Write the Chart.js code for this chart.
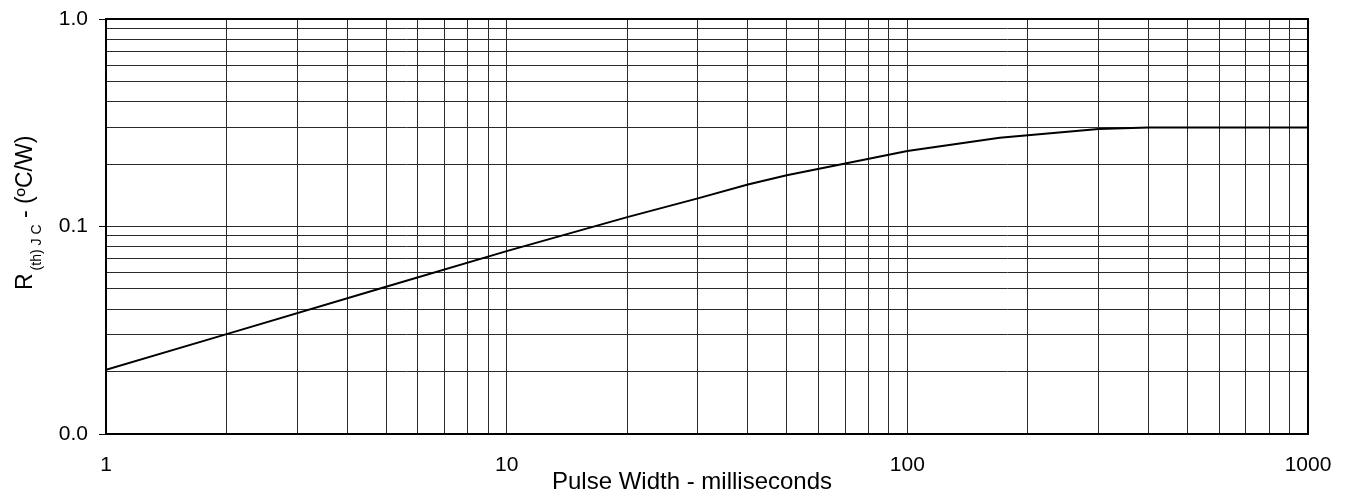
<!DOCTYPE html>
<html>
<head>
<meta charset="utf-8">
<script src="https://cdn.jsdelivr.net/npm/chart.js@4/dist/chart.umd.min.js"></script>
<style>
  html, body { margin: 0; padding: 0; background: #fff; overflow: hidden; }
  #wrap { width: 1350px; height: 498px; }
</style>
</head>
<body>
<div id="wrap"><canvas id="chart" width="1350" height="498"></canvas></div>
<script>
// Transient thermal impedance vs. pulse width
const pulseWidthMs = [1, 2, 5, 10, 20, 30, 40, 50, 70, 100, 170, 300, 400, 1000];
const thermalImpedance = [0.0204, 0.0303, 0.0512, 0.0761, 0.111, 0.1366, 0.1594, 0.1766,
  0.2011, 0.231, 0.268, 0.2953, 0.30, 0.30];

// Grid positions (1..9 per decade) and the labels shown at each decade
const xGridValues = [1, 2, 3, 4, 5, 6, 7, 8, 9, 10, 20, 30, 40, 50, 60, 70, 80, 90,
  100, 200, 300, 400, 500, 600, 700, 800, 900, 1000];
const xTickLabels = { 1: '1', 10: '10', 100: '100', 1000: '1000' };
const yGridValues = [0.01, 0.02, 0.03, 0.04, 0.05, 0.06, 0.07, 0.08, 0.09,
  0.1, 0.2, 0.3, 0.4, 0.5, 0.6, 0.7, 0.8, 0.9, 1];
const yTickLabels = { 0.01: '0.0', 0.1: '0.1', 1: '1.0' };

const xTitle = 'Pulse Width - milliseconds';
const yTitleMain = 'R';
const yTitleSub = '(th) J C';
const yTitleTail = ' - (\u00BAC/W)';

const FONT = 'Arial, "Liberation Sans", sans-serif';

// Frame around the plot and the two axis titles
const framePlugin = {
  id: 'frame',
  afterDraw(chart) {
    const { ctx, chartArea: a } = chart;
    ctx.save();
    ctx.strokeStyle = '#000';
    ctx.lineWidth = 2;
    ctx.strokeRect(a.left, a.top, a.right - a.left, a.bottom - a.top);

    // x-axis title
    ctx.fillStyle = '#000';
    ctx.font = '24px ' + FONT;
    ctx.textAlign = 'center';
    ctx.textBaseline = 'alphabetic';
    ctx.fillText(xTitle, 692, 489);

    // y-axis title with subscript, rotated
    ctx.translate(32, 290);
    ctx.rotate(-Math.PI / 2);
    ctx.textAlign = 'left';
    let pos = 0;
    ctx.font = '23px ' + FONT;
    ctx.fillText(yTitleMain, pos, 0);
    pos += ctx.measureText(yTitleMain).width + 3;
    ctx.font = '14px ' + FONT;
    ctx.fillText(yTitleSub, pos, 9);
    pos += ctx.measureText(yTitleSub).width;
    ctx.font = '23px ' + FONT;
    ctx.fillText(yTitleTail, pos, 0);
    ctx.restore();
  }
};

const points = pulseWidthMs.map((x, i) => ({ x, y: thermalImpedance[i] }));

new Chart(document.getElementById('chart'), {
  type: 'line',
  data: {
    datasets: [{
      data: points,
      borderColor: '#000',
      borderWidth: 2,
      pointRadius: 0,
      tension: 0,
      fill: false
    }]
  },
  options: {
    responsive: false,
    animation: false,
    events: [],
    layout: { padding: { top: 19, right: 42, bottom: 0, left: 0 } },
    plugins: { legend: { display: false }, tooltip: { enabled: false } },
    scales: {
      x: {
        type: 'logarithmic',
        min: 1,
        max: 1000,
        afterBuildTicks: (s) => { s.ticks = xGridValues.map(v => ({ value: v })); },
        afterFit: (s) => { s.height = 64; s.paddingLeft = 0; s.paddingRight = 0; },
        border: { display: false },
        grid: { color: '#2b2b2b', lineWidth: 1, drawTicks: false },
        ticks: {
          autoSkip: false,
          maxRotation: 0,
          padding: 19,
          color: '#000',
          font: { family: FONT, size: 21 },
          callback: (v) => xTickLabels[v] ?? ''
        }
      },
      y: {
        type: 'logarithmic',
        min: 0.01,
        max: 1,
        afterBuildTicks: (s) => { s.ticks = yGridValues.map(v => ({ value: v })); },
        afterFit: (s) => { s.width = 106; s.paddingTop = 0; s.paddingBottom = 0; },
        border: { display: false },
        grid: {
          color: '#2b2b2b',
          lineWidth: 1,
          tickLength: 7,
          tickColor: (c) => (yTickLabels[c.tick.value] ? '#000' : 'rgba(0,0,0,0)')
        },
        ticks: {
          autoSkip: false,
          padding: 11,
          color: '#000',
          font: { family: FONT, size: 21 },
          callback: (v) => yTickLabels[v] ?? ''
        }
      }
    }
  },
  plugins: [framePlugin]
});
</script>
</body>
</html>
